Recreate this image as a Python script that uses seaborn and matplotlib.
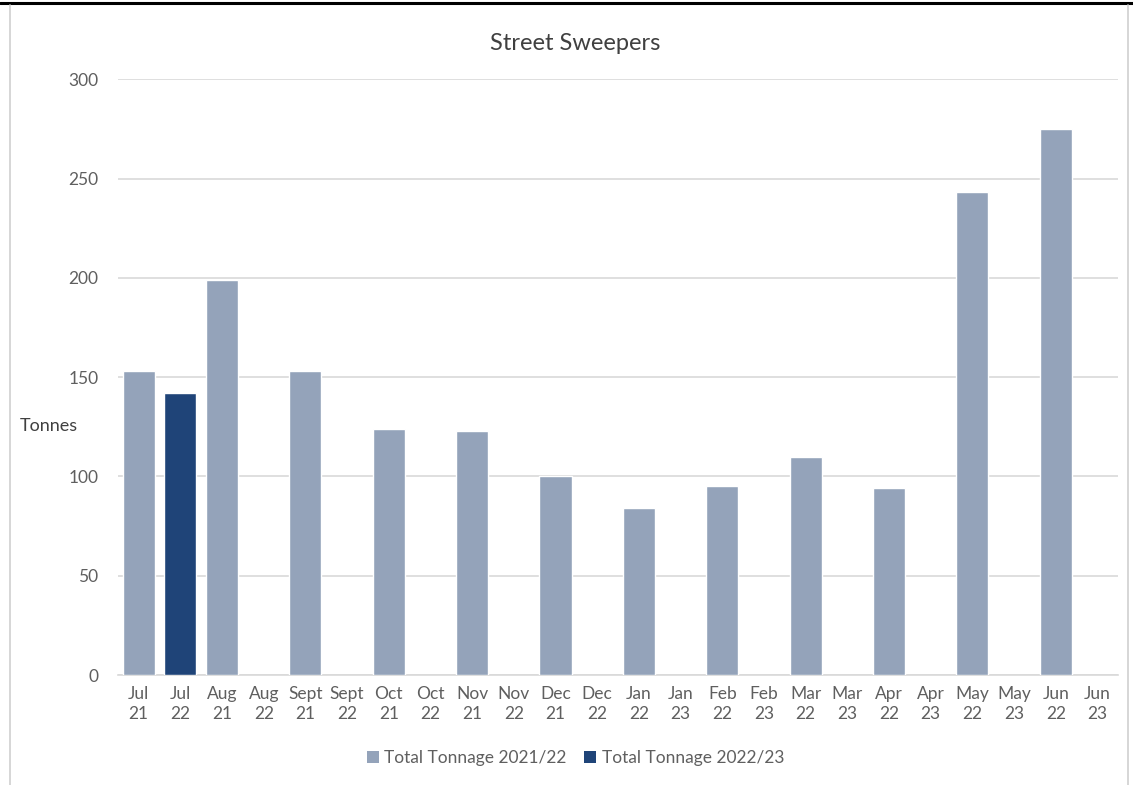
import matplotlib
matplotlib.use("Agg")
import matplotlib.pyplot as plt
from matplotlib.lines import Line2D
from matplotlib.patches import Patch
import numpy as np
import pandas as pd
import seaborn as sns

months = ["Jul", "Aug", "Sept", "Oct", "Nov", "Dec", "Jan", "Feb", "Mar", "Apr", "May", "Jun"]
years_a = ["21", "21", "21", "21", "21", "21", "22", "22", "22", "22", "22", "22"]
years_b = ["22", "22", "22", "22", "22", "22", "23", "23", "23", "23", "23", "23"]
tonnage_2122 = [153, 199, 153, 124, 123, 100, 84, 95, 110, 94, 243, 275]
tonnage_2223 = [142, None, None, None, None, None, None, None, None, None, None, None]
series_names = ["Total Tonnage 2021/22", "Total Tonnage 2022/23"]
colors = ["#94A3BA", "#1F4478"]

categories = []
for m, ya, yb in zip(months, years_a, years_b):
    categories.append(f"{m}\n{ya}")
    categories.append(f"{m}\n{yb}")

rows = []
for i, m in enumerate(months):
    rows.append({"cat": f"{m}\n{years_a[i]}", "series": series_names[0], "value": tonnage_2122[i]})
    rows.append({"cat": f"{m}\n{years_b[i]}", "series": series_names[1],
                 "value": tonnage_2223[i] if tonnage_2223[i] is not None else np.nan})
df = pd.DataFrame(rows)

sns.set_theme(style="white")
plt.rcParams["font.family"] = ["Lato", "DejaVu Sans"]

fig = plt.figure(figsize=(11.33, 7.85), dpi=100)
ax = fig.add_axes([0.104, 0.140, 0.883, 0.759])

sns.barplot(data=df, x="cat", y="value", hue="series", order=categories,
            hue_order=series_names, palette=colors, dodge=False, width=0.77,
            saturation=1, ax=ax, legend=False, zorder=3)

ax.set_ylim(0, 300)
ax.set_xlim(-0.5, len(categories) - 0.5)
ax.set_yticks(np.arange(0, 301, 50))
ax.yaxis.grid(True, color="#D9D9D9", linewidth=1.2, zorder=0)
ax.set_axisbelow(True)

for s in ["top", "right", "left"]:
    ax.spines[s].set_visible(False)
ax.spines["bottom"].set_color("#D9D9D9")
ax.spines["bottom"].set_linewidth(1.2)

ax.set_xticks(range(len(categories)))
ax.set_xticklabels(categories, linespacing=1.3)
ax.set_xticks(np.arange(-0.5, len(categories), 1), minor=True)
ax.tick_params(axis="x", which="major", length=0, pad=8, labelsize=12.5, labelcolor="#5F5F5F")
ax.tick_params(axis="x", which="minor", length=5, color="#D9D9D9", width=1.2)
ax.tick_params(axis="y", length=0, pad=14, labelsize=12.5, labelcolor="#5F5F5F")

ax.set_xlabel("")
ax.set_ylabel("Tonnes", rotation=0, fontsize=13, color="#404040")
ax.yaxis.set_label_coords(-0.069, 0.405)

fig.text(0.508, 0.945, "Street Sweepers", ha="center", va="center", fontsize=17, color="#404040")

handles = [Patch(facecolor=c, edgecolor="none") for c in colors]
fig.legend(handles, series_names, loc="center", bbox_to_anchor=(0.508, 0.034), ncol=2,
           frameon=False, fontsize=12.5, handlelength=0.7, handleheight=0.7,
           handletextpad=0.3, columnspacing=1.0, labelcolor="#5F5F5F")

# outer frame of the chart area
fig.add_artist(Line2D([0, 1], [0.996, 0.996], color="black", linewidth=2.2, transform=fig.transFigure))
fig.add_artist(Line2D([0.009, 0.009], [0.0, 0.993], color="#D0D0D0", linewidth=1.2, transform=fig.transFigure))
fig.add_artist(Line2D([0.996, 0.996], [0.0, 0.993], color="#D0D0D0", linewidth=1.2, transform=fig.transFigure))

fig.savefig("out.png", dpi=100, facecolor="white")
